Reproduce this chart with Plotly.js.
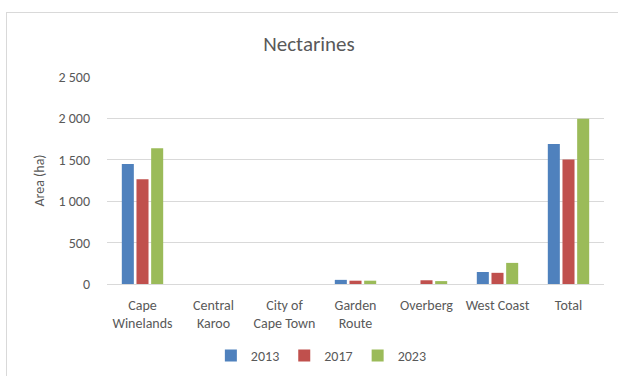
<!DOCTYPE html>
<html>
<head>
<meta charset="utf-8">
<script src="https://cdn.plot.ly/plotly-3.0.1.min.js"></script>
<style>
html,body{margin:0;padding:0;background:#fff;}
#wrap{position:relative;width:618px;height:376px;overflow:hidden;}
#chart{width:618px;height:376px;}
#frame{position:absolute;left:6px;top:12px;width:620px;height:380px;border:1px solid #d9d9d9;pointer-events:none;}
</style>
</head>
<body>
<div id="wrap"><div id="chart"></div><div id="frame"></div></div>
<script>
const categories = ["Cape<br>Winelands", "Central<br>Karoo", "City of<br>Cape Town", "Garden<br>Route", "Overberg", "West Coast", "Total"];
const years = ["2013", "2017", "2023"];
const values2013 = [1450, 0, 0, 50, 0, 145, 1690];
const values2017 = [1265, 0, 0, 40, 45, 135, 1505];
const values2023 = [1640, 0, 0, 40, 35, 255, 1995];
const colors = ["#4f81bd", "#c0504d", "#9bbb59"];
const yTicks = [0, 500, 1000, 1500, 2000, 2500];

const series = [values2013, values2017, values2023];
const font = "Carlito, Calibri, Lato, 'Liberation Sans', sans-serif";
const grey = "#595959";

const data = series.map((vals, i) => ({
  type: "bar",
  name: years[i],
  x: categories,
  y: vals,
  marker: {color: colors[i]},
  hoverinfo: "x+y+name"
}));

const layout = {
  width: 618, height: 376,
  margin: {l: 107, r: 14, t: 77, b: 92, autoexpand: false},
  paper_bgcolor: "#fff", plot_bgcolor: "#fff",
  font: {family: font, color: grey, size: 14},
  separators: ". ",
  title: {text: "Nectarines", font: {family: font, size: 21, color: grey}, x: 0.5, xanchor: "center", y: 1 - 44/376, yanchor: "middle"},
  barmode: "group",
  bargap: 0.38,
  bargroupgap: 0.18,
  xaxis: {
    tickfont: {family: font, size: 14, color: grey},
    showline: true, linecolor: "#d9d9d9", linewidth: 1,
    ticks: "", showgrid: false, automargin: false, fixedrange: true,
    ticklabelstandoff: 8
  },
  yaxis: {
    range: [0, 2500], tickvals: yTicks, separatethousands: true, tickformat: ",d",
    showgrid: true, gridcolor: "#d9d9d9", gridwidth: 1, zeroline: false,
    tickfont: {family: font, size: 14, color: grey},
    ticks: "", ticklen: 0, ticklabelstandoff: 16,
    title: {text: "Area (ha)", font: {family: font, size: 14, color: grey}, standoff: 10},
    automargin: false, fixedrange: true
  },
  showlegend: true,
  legend: {
    orientation: "h", xref: "container", x: 0.52, xanchor: "center", yref: "container", y: 1 - 356/376, yanchor: "middle",
    font: {family: font, size: 14, color: grey},
    itemwidth: 30, traceorder: "normal"
  }
};

Plotly.newPlot("chart", data, layout, {displayModeBar: false, staticPlot: true});
</script>
</body>
</html>
